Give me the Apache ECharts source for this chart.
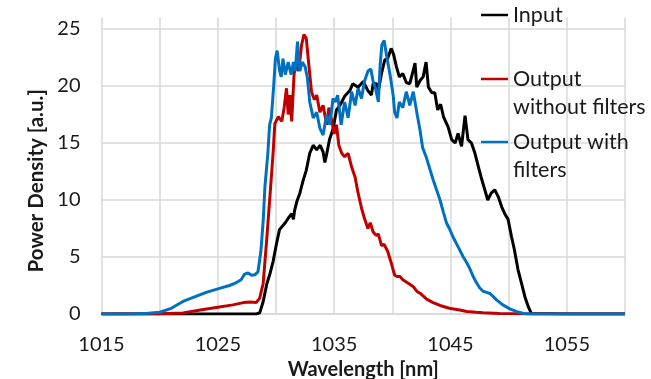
<!DOCTYPE html>
<html>
<head>
<meta charset="utf-8">
<script src="https://cdn.jsdelivr.net/npm/echarts@6/dist/echarts.min.js"></script>
<style>
html,body{margin:0;padding:0;background:#fff;}
#chart{width:651px;height:379px;}
</style>
</head>
<body>
<div id="chart"></div>
<script>
// ---- Data ----
var seriesNames = ['Input', 'Output\nwithout filters', 'Output with\nfilters'];
var xTicks = [1015, 1025, 1035, 1045, 1055];
var yTicks = [0, 5, 10, 15, 20, 25];

var inputNm = [1015,1020,1025,1028.3,1028.6,1028.9,1029.2,1029.5,1029.75,1030.05,1030.3,1030.8,1031.05,1031.2,1031.35,1031.5,1031.6,1031.8,1032.05,1032.3,1032.6,1032.9,1033.2,1033.5,1033.8,1034.05,1034.2,1034.35,1034.6,1034.9,1035.2,1035.5,1035.9,1036.35,1036.6,1037.06,1037.5,1037.9,1038.2,1038.35,1038.65,1038.8,1039.07,1039.35,1039.6,1039.9,1040.1,1040.35,1040.6,1040.9,1041.2,1041.5,1041.8,1041.95,1042.1,1042.4,1042.65,1042.9,1043.1,1043.4,1043.65,1043.9,1044.15,1044.4,1044.8,1045.1,1045.4,1045.65,1045.95,1046.25,1046.5,1046.8,1047.1,1047.4,1047.7,1047.95,1048.2,1048.5,1048.8,1049.1,1049.4,1049.66,1049.95,1050.24,1050.5,1050.8,1051.1,1051.4,1051.7,1051.95,1052.1,1055,1060];
var inputVal = [0,0,0,0,0.1,1.1,2.6,3.6,4.6,6.2,7.4,8.0,8.4,8.5,8.8,8.3,9.1,9.9,10.6,11.6,12.6,14.1,14.8,14.4,14.8,14.2,13.3,14.0,15.3,16.2,17.9,18.3,19.1,19.6,20.2,19.9,20.4,19.6,19.2,20.2,20.2,19.6,21.1,22.3,22.4,23.3,22.8,21.7,20.8,21.1,20.3,20.2,21.4,22.0,19.9,20.5,20.8,22.1,19.9,19.4,19.4,17.9,18.4,17.3,16.4,15.3,15.0,15.85,14.7,17.4,15.3,15.0,14.1,12.9,11.75,10.9,10.0,10.6,10.9,10.3,9.4,8.8,8.3,6.8,5.6,3.9,2.7,1.5,0.6,0.05,0,0,0];

var noFilterNm = [1015,1018,1020,1022,1023.5,1025,1026.3,1027.2,1027.8,1028.3,1028.6,1028.9,1029.2,1029.5,1029.75,1029.9,1030.2,1030.5,1030.7,1030.9,1031.05,1031.2,1031.35,1031.55,1031.75,1031.95,1032.2,1032.4,1032.6,1032.8,1033.05,1033.3,1033.5,1033.77,1034.05,1034.35,1034.55,1034.8,1035.0,1035.2,1035.4,1035.65,1035.9,1036.2,1036.5,1036.8,1037.06,1037.35,1037.6,1037.9,1038.1,1038.35,1038.6,1038.8,1039.07,1039.3,1039.6,1039.9,1040.2,1040.4,1040.65,1040.9,1041.2,1041.5,1041.8,1042.1,1042.4,1042.95,1043.5,1044.1,1044.9,1045.8,1046.4,1047.2,1047.8,1049.2,1050.7,1052,1060];
var noFilterVal = [0,0,0.02,0.08,0.35,0.6,0.8,1.0,1.05,1.0,1.4,2.7,6.5,10.6,14.1,16.7,17.3,16.9,18.1,19.8,17.5,19.2,16.9,21.0,22.1,21.3,23.6,24.5,24.2,22.1,19.5,18.8,19.2,17.7,18.3,16.6,18.1,16.9,15.8,16.6,14.8,14.1,13.8,14.1,12.9,12.0,10.6,9.3,8.4,7.5,8.0,7.2,6.9,7.0,6.0,6.1,5.5,4.5,3.4,3.3,3.3,3.0,2.8,2.6,2.4,2.0,1.8,1.3,1.0,0.75,0.5,0.35,0.22,0.15,0.1,0.05,0.02,0,0];

var withFilterNm = [1015,1016,1017,1018,1019,1020,1021,1022,1023,1024,1025,1026,1026.5,1027,1027.3,1027.6,1027.9,1028.2,1028.45,1028.7,1028.9,1029.05,1029.3,1029.45,1029.6,1029.8,1029.95,1030.1,1030.3,1030.45,1030.6,1030.8,1031.05,1031.3,1031.5,1031.65,1031.85,1032.05,1032.25,1032.5,1032.7,1032.9,1033.2,1033.5,1033.77,1034.05,1034.35,1034.63,1034.9,1035.1,1035.3,1035.6,1035.9,1036.2,1036.5,1036.8,1037.06,1037.35,1037.6,1037.9,1038.15,1038.35,1038.55,1038.8,1038.95,1039.1,1039.3,1039.5,1039.8,1040.07,1040.2,1040.4,1040.6,1040.9,1041.2,1041.5,1041.8,1042.1,1042.4,1042.6,1042.9,1043.2,1043.5,1043.8,1044.1,1044.4,1044.65,1044.9,1045.2,1045.5,1045.8,1046.1,1046.4,1046.65,1046.9,1047.2,1047.5,1047.8,1048.1,1048.4,1048.7,1049.0,1049.5,1050.1,1050.7,1051.3,1052,1060];
var withFilterVal = [0,0,0,0.02,0.06,0.15,0.5,1.1,1.5,1.9,2.2,2.5,2.7,3.0,3.5,3.6,3.4,3.45,3.7,5.5,8.2,11.2,14.1,16.6,17.2,20.0,22.4,23.1,21.4,20.8,22.4,21.0,22.1,21.0,22.1,21.3,23.9,21.3,22.1,21.7,20.7,18.6,17.2,17.7,16.3,15.7,17.5,16.6,18.9,18.6,19.2,16.6,18.6,17.2,19.5,18.3,19.8,18.9,20.4,21.3,21.5,20.4,19.8,18.6,21.8,23.6,24.0,22.7,21.0,19.2,17.7,17.2,18.6,18.1,19.5,18.3,19.5,17.7,16.0,14.6,13.8,12.8,11.8,10.9,10.0,8.9,8.0,7.5,6.8,6.2,5.6,5.0,4.5,4.0,3.4,2.8,2.3,2.0,1.9,1.8,1.5,1.2,0.8,0.45,0.2,0.05,0,0];

function zip(xs, ys) { return xs.map(function (x, i) { return [x, ys[i]]; }); }

var colors = ['#000000', '#C00000', '#0070C0'];
var FONT = 'Lato';
var textColor = '#1a1a1a';

var chart = echarts.init(document.getElementById('chart'));

function legendFor(name, left, top, multi) {
  return {
    data: [{ name: name }],
    left: left, top: top,
    padding: 0,
    orient: 'vertical',
    icon: 'rect',
    itemWidth: 27, itemHeight: 2.5,
    selectedMode: false,
    // a leading empty line puts the first text line level with the legend line
    formatter: function (n) { return multi ? '\n' + n : n; },
    textStyle: { fontFamily: FONT, fontSize: 21.5, color: textColor, lineHeight: 28 }
  };
}

chart.setOption({
  animation: false,
  color: colors,
  grid: { left: 101.5, right: 26, top: 17.6, bottom: 65, containLabel: false, outerBoundsMode: 'none' },
  legend: [
    legendFor(seriesNames[0], 481, 1, false),
    legendFor(seriesNames[1], 481, 37, true),
    legendFor(seriesNames[2], 481, 100, true)
  ],
  xAxis: {
    type: 'value', min: 1015, max: 1060, interval: 5,
    name: 'Wavelength [nm]', nameLocation: 'middle', nameGap: 44,
    nameTextStyle: { fontFamily: FONT, fontSize: 20, fontWeight: 'bold', color: textColor },
    axisLine: { show: true, lineStyle: { color: '#d9d9d9', width: 1.5 } },
    axisTick: { show: false },
    axisLabel: {
      fontFamily: FONT, fontSize: 20, color: textColor, margin: 21,
      formatter: function (v) { return xTicks.indexOf(v) >= 0 ? String(v) : ''; }
    },
    splitLine: { show: true, lineStyle: { color: '#d9d9d9', width: 1.5 } }
  },
  yAxis: {
    type: 'value', min: 0, max: 26, interval: 5,
    name: 'Power Density [a.u.]', nameLocation: 'middle', nameGap: 53, nameRotate: 90,
    nameTextStyle: { fontFamily: FONT, fontSize: 20.5, fontWeight: 'bold', color: textColor, padding: [0, 30, 0, 0] },
    axisLine: { show: false },
    axisTick: { show: false },
    axisLabel: {
      fontFamily: FONT, fontSize: 20, color: textColor, margin: 21, showMaxLabel: false,
      formatter: function (v) { return yTicks.indexOf(v) >= 0 ? String(v) : ''; }
    },
    splitLine: { show: true, showMaxLine: false, lineStyle: { color: '#d9d9d9', width: 1.5 } }
  },
  series: [
    { name: seriesNames[0], type: 'line', data: zip(inputNm, inputVal), showSymbol: false, lineStyle: { width: 3, color: colors[0] }, itemStyle: { color: colors[0] } },
    { name: seriesNames[1], type: 'line', data: zip(noFilterNm, noFilterVal), showSymbol: false, lineStyle: { width: 3, color: colors[1] }, itemStyle: { color: colors[1] } },
    { name: seriesNames[2], type: 'line', data: zip(withFilterNm, withFilterVal), showSymbol: false, lineStyle: { width: 3, color: colors[2] }, itemStyle: { color: colors[2] } }
  ]
});
</script>
</body>
</html>
